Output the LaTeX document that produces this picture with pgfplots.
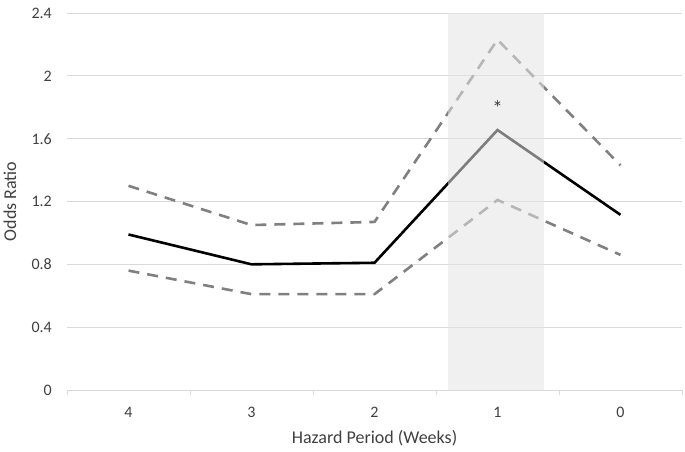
\documentclass[border=0pt]{standalone}
\usepackage{pgfplots}
\pgfplotsset{compat=1.18}
\usepackage{fontspec}
\setmainfont{Carlito}
\definecolor{gridc}{RGB}{217,217,217}
\definecolor{dashc}{RGB}{128,128,128}
\definecolor{txtc}{RGB}{64,64,64}
\definecolor{shadec}{RGB}{228,228,228}
\begin{document}
\begin{tikzpicture}
\path[use as bounding box] (-67pt,-62pt) rectangle (618pt,390pt);
\begin{axis}[
  at={(0pt,0pt)}, anchor=south west,
  scale only axis, width=615pt, height=377pt,
  xmin=-0.5, xmax=4.5, ymin=0, ymax=2.4,
  xtick={0,1,2,3,4}, xticklabels={4,3,2,1,0},
  ytick={0,0.4,0.8,1.2,1.6,2,2.4},
  yticklabels={0,0.4,0.8,1.2,1.6,2,2.4},
  major tick length=0pt,
  extra x ticks={-0.5,0.5,1.5,2.5,3.5,4.5},
  extra x tick labels={},
  extra x tick style={major tick length=5pt, tick align=outside, tick style={draw=gridc, line width=0.8pt}, grid=none},
  ymajorgrids, grid style={draw=gridc, line width=0.8pt},
  axis x line*=bottom, axis y line*=left,
  x axis line style={draw=gridc, line width=0.8pt, -},
  y axis line style={draw=none},
  tick label style={font=\fontsize{16}{18}\selectfont, text=txtc},
  /pgf/number format/assume math mode=true,
  yticklabel style={anchor=east, inner sep=0pt, xshift=-15pt},
  xticklabel style={anchor=base, inner sep=0pt, yshift=-27pt},
  xlabel={Hazard Period (Weeks)}, ylabel={Odds Ratio},
  every axis x label/.style={at={(axis description cs:0.5,0)}, anchor=center, yshift=-48pt},
  every axis y label/.style={at={(axis description cs:-0.0927,0.5)}, rotate=90, anchor=center},
  label style={font=\fontsize{18}{20}\selectfont, text=txtc},
  clip=false,
]
\addplot[draw=dashc, line width=2.6pt, dash pattern=on 11pt off 8pt] coordinates {(0,1.30) (1,1.05) (2,1.07) (3,2.23) (4,1.43)};
\addplot[draw=dashc, line width=2.6pt, dash pattern=on 11pt off 8pt] coordinates {(0,0.76) (1,0.61) (2,0.61) (3,1.21) (4,0.86)};
\addplot[draw=black, line width=2.6pt] coordinates {(0,0.99) (1,0.80) (2,0.81) (3,1.655) (4,1.115)};
\fill[shadec, opacity=0.55] (axis cs:2.6,0) rectangle (axis cs:3.38,2.4);
\node[text=txtc, font=\fontsize{21}{23}\selectfont, anchor=north, inner sep=0pt] at (axis cs:3,1.845) {*};
\end{axis}
\end{tikzpicture}
\end{document}
